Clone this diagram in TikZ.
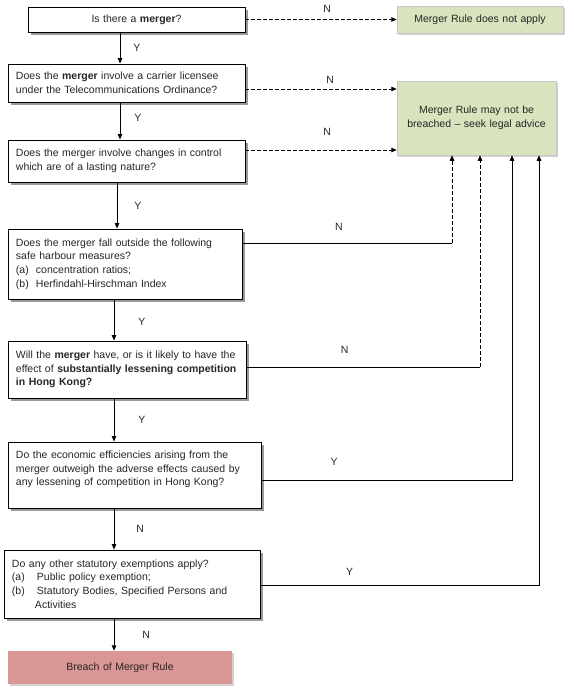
\documentclass[tikz,border=0pt]{standalone}
\usepackage{fontspec}
\setmainfont{Liberation Sans}
\usepackage{tikz}
\usetikzlibrary{shadows,arrows.meta}

\definecolor{sagegreen}{HTML}{D7E4BD}
\definecolor{rosered}{HTML}{D99694}

\tikzset{
  qbox/.style={draw, line width=0.9pt, fill=white, align=left, inner xsep=8pt, inner ysep=2pt,
    drop shadow={shadow xshift=3pt, shadow yshift=-3pt, fill=black!40, opacity=1}},
  endbox/.style={draw=black!22, line width=0.5pt, align=center, inner xsep=8pt, inner ysep=2pt,
    drop shadow={shadow xshift=2pt, shadow yshift=-2pt, fill=black!18, opacity=1}},
  lbl/.style={inner sep=1pt},
  link/.style={line width=0.8pt, -{Triangle[length=5.5pt,width=4.5pt]}},
  nolink/.style={link, dash pattern=on 4pt off 2pt},
}

\begin{document}
\begin{tikzpicture}[x=1pt, y=-1pt, font=\fontsize{10.5}{13.6}\selectfont, text=black!85]
\useasboundingbox (0,0) rectangle (568,690);
%----------------------------------
\node[qbox, align=center, text width=201pt, minimum height=25pt] (q1) at (136.5,19.5)
  {Is there a \textbf{merger}?};
\node[qbox, text width=221pt, minimum height=38pt] (q2) at (126.5,83)
  {Does the \textbf{merger} involve a carrier licensee\\under the Telecommunications Ordinance?};
\node[qbox, text width=221pt, minimum height=42pt] (q3) at (126.5,161)
  {Does the merger involve changes in control\\which are of a lasting nature?};
\node[qbox, text width=218pt, minimum height=70pt] (q4) at (125,264)
  {Does the merger fall outside the following\\safe harbour measures?\\
   \makebox[20pt][l]{(a)}concentration ratios;\\\makebox[20pt][l]{(b)}Herfindahl-Hirschman Index};
\node[qbox, text width=222pt, minimum height=57pt] (q5) at (127,369.5)
  {Will the \textbf{merger} have, or is it likely to have the\\effect of \textbf{substantially lessening competition}\\\textbf{in Hong Kong?}};
\node[qbox, text width=237pt, minimum height=66pt] (q6) at (134.5,475)
  {Do the economic efficiencies arising from the\\merger outweigh the adverse effects caused by\\any lessening of competition in Hong Kong?\\\mbox{}};
\node[qbox, text width=240pt, minimum height=68pt] (q7) at (132,584)
  {Do any other statutory exemptions apply?\\\makebox[25pt][l]{(a)}Public policy exemption;\\
   \makebox[25pt][l]{(b)}Statutory Bodies, Specified Persons and\\\hspace*{23pt}Activities};
%----------------------------------
\node[endbox, fill=rosered, draw=none, text width=208pt, minimum height=33pt] (breach) at (120,667.5)
  {Breach of Merger Rule};
\node[endbox, fill=sagegreen, text width=150pt, minimum height=27pt] (noapply) at (480,19.5)
  {Merger Rule does not apply};
\node[endbox, fill=sagegreen, text width=143pt, minimum height=74pt] (advice) at (476.5,118)
  {Merger Rule may not be\\breached -- seek legal advice};
%----------------------------------
\coordinate (sp1) at (120,0);
\coordinate (sp2) at (117,0);
\coordinate (sp3) at (114,0);
\draw[link] (q1.south -| sp1) -- node[lbl, right=12pt] {Y} (q2.north -| sp1);
\draw[link] (q2.south -| sp1) -- node[lbl, pos=0.42, right=13pt] {Y} (q3.north -| sp1);
\draw[link] (q3.south -| sp2) -- node[lbl, right=16pt] {Y} (q4.north -| sp2);
\draw[link] (q4.south -| sp3) -- node[lbl, pos=0.55, right=23pt] {Y} (q5.north -| sp3);
\draw[link] (q5.south -| sp3) -- node[lbl, right=23pt] {Y} (q6.north -| sp3);
\draw[link] (q6.south -| sp3) -- node[lbl, right=21pt] {N} (q7.north -| sp3);
\draw[link] (q7.south -| sp3) -- node[lbl, right=27pt] {N} (breach.north -| sp3);
%----------------------------------
\coordinate (n2) at (0,89);
\coordinate (n3) at (0,150);
\coordinate (b4) at (452,243);
\coordinate (b5) at (480,367);
\coordinate (b6) at (512,480);
\coordinate (b7) at (539,585);
\draw[nolink] (q1.east) -- node[lbl, pos=0.54, above=6pt] {N} (noapply.west);
\draw[nolink] (q2.east |- n2) -- node[lbl, pos=0.56, above=4pt] {N} (advice.west |- n2);
\draw[nolink] (q3.east |- n3) -- node[lbl, pos=0.54, above=13pt] {N} (advice.west |- n3);
\draw[line width=0.8pt] (q4.east |- b4) -- node[lbl, pos=0.46, above=11pt] {N} (b4);
\draw[nolink] (b4) -- (b4 |- advice.south);
\draw[line width=0.8pt] (q5.east |- b5) -- node[lbl, pos=0.42, above=12pt] {N} (b5);
\draw[nolink] (b5) -- (b5 |- advice.south);
\draw[link] (q6.east |- b6) -- node[lbl, pos=0.29, above=13pt] {Y} (b6) -- (b6 |- advice.south);
\draw[link] (q7.east |- b7) -- node[lbl, pos=0.32, above=8pt] {Y} (b7) -- (b7 |- advice.south);
\end{tikzpicture}
\end{document}
